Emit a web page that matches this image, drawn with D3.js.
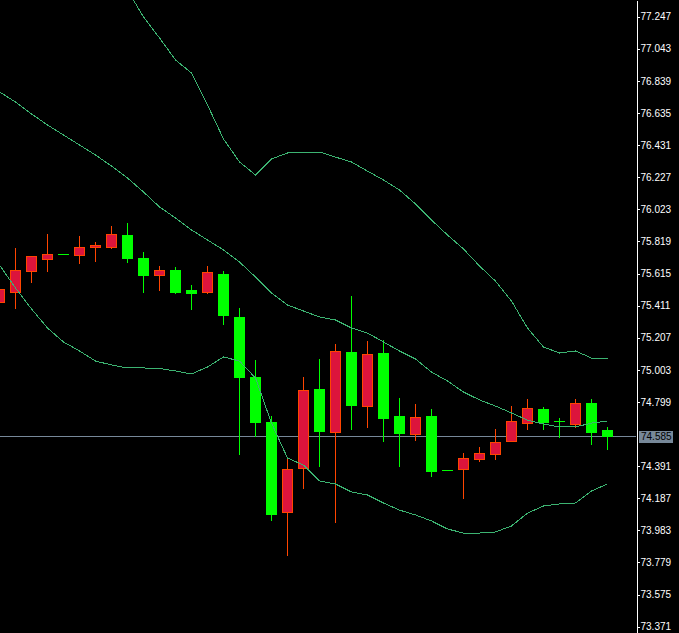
<!DOCTYPE html>
<html>
<head>
<meta charset="utf-8">
<script src="https://cdn.jsdelivr.net/npm/d3@7"></script>
<style>
  html, body { margin: 0; padding: 0; background: #000; }
  svg { display: block; }
</style>
</head>
<body>
<svg id="chart" width="679" height="633"></svg>
<script>
// ---- data ----
const opens  = [75.436,75.500,75.633,75.709,75.737,75.731,75.786,75.786,75.860,75.714,75.604,75.638,75.512,75.500,75.612,75.339,74.958,74.672,74.098,74.378,74.881,74.610,75.117,74.775,75.110,74.710,74.597,74.710,74.365,74.371,74.435,74.466,74.549,74.667,74.754,74.676,74.661,74.792,74.621];
const highs  = [75.525,75.777,75.726,75.866,75.737,75.854,75.815,75.917,75.936,75.752,75.663,75.657,75.542,75.663,75.631,75.396,75.066,74.710,74.435,74.958,75.072,75.167,75.472,75.186,75.193,74.826,74.786,74.754,74.365,74.473,74.513,74.627,74.773,74.818,74.767,74.697,74.818,74.818,74.640];
const lows   = [75.425,75.398,75.563,75.633,75.737,75.684,75.697,75.777,75.690,75.500,75.512,75.493,75.392,75.493,75.296,74.470,74.583,74.051,73.828,74.254,74.394,74.038,74.629,74.642,74.553,74.394,74.559,74.330,74.365,74.191,74.422,74.435,74.549,74.629,74.629,74.578,74.642,74.534,74.502];
const closes = [75.517,75.638,75.726,75.739,75.737,75.782,75.796,75.866,75.716,75.608,75.638,75.500,75.493,75.625,75.353,74.960,74.674,74.089,74.373,74.875,74.616,75.123,74.782,75.104,74.699,74.604,74.703,74.362,74.365,74.441,74.473,74.543,74.676,74.759,74.674,74.676,74.791,74.610,74.585];

const bandUpper  = [77.868,77.887,77.868,77.849,77.811,77.741,77.677,77.563,77.417,77.245,77.112,76.972,76.889,76.686,76.470,76.324,76.241,76.343,76.381,76.381,76.387,76.355,76.324,76.266,76.209,76.146,76.057,75.955,75.860,75.771,75.663,75.567,75.440,75.269,75.148,75.110,75.123,75.078,75.072];
const bandMiddle = [76.769,76.705,76.629,76.559,76.495,76.432,76.368,76.298,76.222,76.133,76.038,75.968,75.892,75.828,75.765,75.688,75.593,75.491,75.415,75.377,75.339,75.320,75.269,75.237,75.180,75.123,75.072,74.989,74.932,74.862,74.812,74.773,74.729,74.684,74.659,74.640,74.640,74.665,74.678];
const bandLower  = [75.669,75.523,75.390,75.269,75.180,75.123,75.059,75.034,75.015,75.015,75.012,74.996,74.977,75.021,75.085,75.059,74.951,74.665,74.443,74.398,74.297,74.278,74.227,74.208,74.157,74.112,74.081,74.043,73.992,73.966,73.966,73.973,74.011,74.093,74.138,74.151,74.157,74.233,74.278];

const tickLabels = ["77.247","77.043","76.839","76.635","76.431","76.227","76.023","75.819","75.615","75.411","75.207","75.003","74.799","74.391","74.187","73.983","73.779","73.575","73.371"];
const currentPrice = 74.585;

// ---- layout ----
const W = 679, H = 633, axisX = 636;
const svg = d3.select("#chart");
svg.append("rect").attr("width", W).attr("height", H).attr("fill", "#000");

const n = opens.length;
const x = d3.scaleLinear().domain([0, n - 1]).range([-0.5, -0.5 + 16 * (n - 1)]);
const y = d3.scaleLinear().domain([73.331, 77.353]).range([H, 0]);

const plot = svg.append("g");

// current price line (behind candles)
const py = Math.round(y(currentPrice)) + 0.5;
plot.append("line")
  .attr("x1", 0).attr("x2", axisX).attr("y1", py).attr("y2", py)
  .attr("stroke", "#778899").attr("stroke-width", 1).attr("shape-rendering", "crispEdges");

const BULL_FILL = "#dc143c", BULL_EDGE = "#ff4500", BEAR = "#00ff00";
const data = d3.range(n).map(i => ({ i, o: opens[i], h: highs[i], l: lows[i], c: closes[i] }));

const cg = plot.append("g").attr("shape-rendering", "crispEdges");
data.forEach(d => {
  const cx = x(d.i);
  const bull = d.c > d.o;
  const col = bull ? BULL_EDGE : BEAR;
  const yh = Math.round(y(d.h)), yl = Math.round(y(d.l));
  const yt = Math.round(y(Math.max(d.o, d.c))), yb = Math.round(y(Math.min(d.o, d.c)));
  if (yl > yh) {
    cg.append("line").attr("x1", cx).attr("x2", cx)
      .attr("y1", yh).attr("y2", yl + 1)
      .attr("stroke", col).attr("stroke-width", 1);
  }
  if (bull) {
    cg.append("rect")
      .attr("x", cx - 5).attr("y", yt + 0.5)
      .attr("width", 10).attr("height", Math.max(1, yb - yt))
      .attr("fill", BULL_FILL).attr("stroke", BULL_EDGE).attr("stroke-width", 1);
  } else {
    cg.append("rect")
      .attr("x", cx - 5.5).attr("y", yt)
      .attr("width", 11).attr("height", Math.max(1, yb - yt + 1))
      .attr("fill", BEAR);
  }
});

// Bollinger bands
const bandLine = d3.line().x((v, i) => x(i)).y(v => y(v));
[bandUpper, bandMiddle, bandLower].forEach(arr => {
  plot.append("path")
    .attr("d", bandLine(arr))
    .attr("fill", "none")
    .attr("stroke", "#3cb371")
    .attr("stroke-width", 1)
    .attr("shape-rendering", "crispEdges");
});

// right price axis
const axis = d3.axisRight(y)
  .tickValues(tickLabels.map(Number))
  .tickFormat(d3.format(".3f"))
  .tickSize(3).tickSizeOuter(0).tickPadding(1);
const ag = svg.append("g")
  .attr("transform", `translate(${axisX + 0.5},0)`)
  .call(axis);
ag.select(".domain").attr("stroke", "#fff").attr("shape-rendering", "crispEdges");
ag.selectAll(".tick line").attr("stroke", "#fff").attr("shape-rendering", "crispEdges");
ag.selectAll(".tick text")
  .attr("fill", "#fff")
  .style("font-family", "'Liberation Sans', Arial, sans-serif")
  .style("font-size", "10px");

// current price label
const lbl = svg.append("g");
lbl.append("rect")
  .attr("x", 639).attr("y", Math.round(y(currentPrice)) - 5)
  .attr("width", 34).attr("height", 12)
  .attr("fill", "#778899");
lbl.append("text")
  .attr("x", 641).attr("y", Math.round(y(currentPrice)) + 1)
  .attr("dy", "0.32em")
  .attr("fill", "#000")
  .style("font-family", "'Liberation Sans', Arial, sans-serif")
  .style("font-size", "10px")
  .text(d3.format(".3f")(currentPrice));
</script>
</body>
</html>
